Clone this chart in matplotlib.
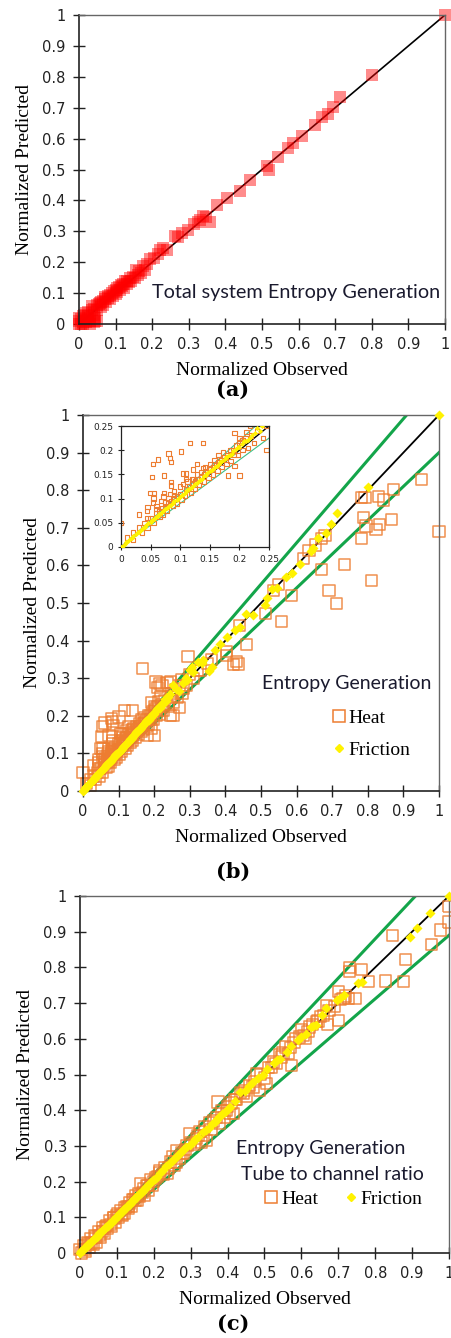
import matplotlib
matplotlib.use("Agg")
import matplotlib.pyplot as plt
from matplotlib.lines import Line2D

# ---------------- data ----------------
# (a) total system entropy generation
tot_obs = [0.0, 0.0, 0.005, 0.01, 0.01, 0.015, 0.02, 0.02, 0.025, 0.03, 0.035, 0.035, 0.04, 0.045,
           0.05, 0.05, 0.055, 0.06, 0.065, 0.07, 0.072, 0.08, 0.085, 0.09, 0.095, 0.1, 0.105, 0.11,
           0.115, 0.12, 0.126, 0.13, 0.14, 0.148, 0.157, 0.165, 0.176, 0.185, 0.194, 0.205, 0.216,
           0.23, 0.24, 0.262, 0.281, 0.299, 0.313, 0.325, 0.34, 0.358, 0.376, 0.404, 0.44, 0.467,
           0.513, 0.518, 0.545, 0.57, 0.585, 0.61, 0.646, 0.665, 0.68, 0.695, 0.713, 0.80, 1.0,
           0.0, 0.005, 0.01, 0.02, 0.03, 0.04, 0.045, 0.03, 0.015, 0.025, 0.04, 0.05, 0.06, 0.058,
           0.065, 0.075, 0.078, 0.085, 0.092, 0.1, 0.105, 0.112, 0.118, 0.123, 0.132, 0.137, 0.142,
           0.152, 0.16, 0.17, 0.18, 0.222, 0.27, 0.33, 0.348]
tot_pred = [0.01, 0.02, 0.015, 0.005, 0.025, 0.03, 0.01, 0.035, 0.04, 0.01, 0.045, 0.058, 0.05, 0.01,
            0.01, 0.06, 0.065, 0.07, 0.075, 0.08, 0.088, 0.09, 0.095, 0.1, 0.106, 0.11, 0.115, 0.12,
            0.125, 0.13, 0.14, 0.14, 0.15, 0.153, 0.175, 0.17, 0.189, 0.195, 0.211, 0.215, 0.225,
            0.245, 0.24, 0.285, 0.293, 0.304, 0.325, 0.33, 0.35, 0.33, 0.385, 0.407, 0.43, 0.467,
            0.51, 0.50, 0.54, 0.57, 0.585, 0.61, 0.645, 0.67, 0.68, 0.703, 0.736, 0.806, 1.0,
            0.0, 0.0, 0.0, 0.005, 0.0, 0.005, 0.02, 0.02, 0.012, 0.025, 0.03, 0.045, 0.055, 0.068,
            0.06, 0.07, 0.085, 0.08, 0.09, 0.097, 0.105, 0.11, 0.122, 0.118, 0.128, 0.137, 0.14,
            0.148, 0.16, 0.165, 0.175, 0.238, 0.28, 0.335, 0.345]

# (b) entropy generation, heat and friction
heat_b_obs = [0.0, 0.01, 0.02, 0.03, 0.03, 0.04, 0.044, 0.045, 0.049, 0.05, 0.052, 0.054, 0.054,
              0.055, 0.056, 0.06, 0.062, 0.065, 0.07, 0.072, 0.073, 0.073, 0.075, 0.08, 0.08, 0.083,
              0.083, 0.084, 0.084, 0.084, 0.085, 0.09, 0.095, 0.1, 0.101, 0.105, 0.105, 0.11, 0.11,
              0.11, 0.115, 0.117, 0.12, 0.122, 0.122, 0.125, 0.128, 0.13, 0.135, 0.139, 0.139, 0.14,
              0.145, 0.15, 0.155, 0.16, 0.165, 0.167, 0.17, 0.175, 0.18, 0.181, 0.185, 0.19, 0.192,
              0.192, 0.195, 0.2, 0.2, 0.205, 0.21, 0.212, 0.22, 0.222, 0.236, 0.245, 0.245, 0.246,
              0.253, 0.26, 0.272, 0.277, 0.281, 0.295, 0.3, 0.32, 0.402, 0.404, 0.423, 0.431, 0.437,
              0.44, 0.459, 0.513, 0.535, 0.549, 0.558, 0.586, 0.619, 0.635, 0.652, 0.669, 0.67,
              0.68, 0.691, 0.713, 0.735, 0.783, 0.783, 0.789, 0.792, 0.795, 0.811, 0.823, 0.829,
              0.832, 0.844, 0.867, 0.872, 0.951, 1.0,
              0.02, 0.035, 0.045, 0.055, 0.06, 0.065, 0.068, 0.07, 0.078, 0.08, 0.088, 0.09, 0.095,
              0.1, 0.102, 0.108, 0.112, 0.118, 0.125, 0.128, 0.132, 0.14, 0.142, 0.148, 0.155,
              0.158, 0.163, 0.17, 0.172, 0.178, 0.185, 0.19, 0.198, 0.2, 0.205, 0.215, 0.218, 0.225,
              0.23, 0.24, 0.25, 0.255, 0.265, 0.27, 0.28, 0.29, 0.31, 0.33, 0.35, 0.36, 0.215, 0.205,
              0.21, 0.045, 0.06, 0.075, 0.09, 0.12, 0.135, 0.15, 0.165]
heat_b_pred = [0.05, 0.02, 0.03, 0.04, 0.067, 0.05, 0.075, 0.083, 0.112, 0.06, 0.145, 0.092, 0.172,
               0.1, 0.112, 0.07, 0.181, 0.075, 0.08, 0.104, 0.112, 0.148, 0.085, 0.193, 0.09, 0.109,
               0.184, 0.127, 0.134, 0.175, 0.095, 0.1, 0.105, 0.11, 0.197, 0.13, 0.152, 0.141, 0.152,
               0.12, 0.125, 0.215, 0.13, 0.141, 0.16, 0.135, 0.172, 0.14, 0.145, 0.163, 0.215, 0.15,
               0.155, 0.16, 0.165, 0.17, 0.175, 0.326, 0.18, 0.185, 0.19, 0.148, 0.2, 0.2, 0.167,
               0.235, 0.21, 0.148, 0.215, 0.22, 0.225, 0.237, 0.23, 0.28, 0.289, 0.29, 0.25, 0.201,
               0.2, 0.27, 0.223, 0.295, 0.272, 0.358, 0.31, 0.32, 0.372, 0.361, 0.337, 0.345, 0.338,
               0.44, 0.39, 0.472, 0.534, 0.55, 0.45, 0.519, 0.619, 0.64, 0.654, 0.589, 0.672,
               0.68, 0.534, 0.499, 0.603, 0.781, 0.672, 0.727, 0.781, 0.705, 0.559, 0.696, 0.784,
               0.709, 0.774, 0.722, 0.802, 0.829, 0.69,
               0.015, 0.03, 0.04, 0.05, 0.085, 0.062, 0.095, 0.066, 0.075, 0.1, 0.085, 0.115, 0.09,
               0.125, 0.098, 0.105, 0.135, 0.112, 0.12, 0.15, 0.128, 0.135, 0.165, 0.143, 0.15,
               0.18, 0.158, 0.165, 0.195, 0.172, 0.178, 0.19, 0.19, 0.225, 0.2, 0.205, 0.25, 0.215,
               0.24, 0.225, 0.26, 0.235, 0.25, 0.28, 0.26, 0.28, 0.3, 0.32, 0.34, 0.35, 0.285, 0.29,
               0.275, 0.06, 0.078, 0.092, 0.108, 0.14, 0.155, 0.172, 0.19]
fric_b_obs = [0.0, 0.006, 0.012, 0.018, 0.025, 0.03, 0.037, 0.043, 0.05, 0.056, 0.062, 0.068, 0.075,
              0.081, 0.087, 0.094, 0.1, 0.106, 0.112, 0.118, 0.125, 0.131, 0.137, 0.143, 0.15,
              0.156, 0.162, 0.168, 0.175, 0.181, 0.187, 0.194, 0.2, 0.208, 0.215, 0.222, 0.23,
              0.238, 0.253, 0.262, 0.281, 0.291, 0.3, 0.305, 0.324, 0.338, 0.353, 0.362, 0.371,
              0.385, 0.404, 0.427, 0.441, 0.459, 0.478, 0.511, 0.516, 0.544, 0.57, 0.586, 0.61,
              0.64, 0.645, 0.661, 0.683, 0.697, 0.713, 0.801, 1.0,
              0.003, 0.009, 0.015, 0.021, 0.028, 0.034, 0.04, 0.046, 0.053, 0.059, 0.065, 0.071,
              0.078, 0.084, 0.09, 0.097, 0.103, 0.109, 0.115, 0.121, 0.128, 0.134, 0.14, 0.146,
              0.153, 0.159, 0.165, 0.171, 0.178, 0.184, 0.19, 0.197, 0.204, 0.211, 0.218, 0.226,
              0.234, 0.245, 0.27, 0.29, 0.31, 0.335, 0.53]
fric_b_pred = [0.0, 0.007, 0.013, 0.019, 0.027, 0.031, 0.039, 0.045, 0.052, 0.058, 0.064, 0.071,
               0.078, 0.084, 0.09, 0.098, 0.104, 0.11, 0.117, 0.122, 0.13, 0.137, 0.141, 0.149,
               0.156, 0.161, 0.168, 0.176, 0.181, 0.188, 0.193, 0.203, 0.206, 0.218, 0.222, 0.232,
               0.246, 0.25, 0.282, 0.27, 0.286, 0.295, 0.321, 0.33, 0.343, 0.348, 0.318, 0.33, 0.376,
               0.392, 0.41, 0.427, 0.437, 0.472, 0.468, 0.494, 0.512, 0.539, 0.568, 0.579, 0.603,
               0.637, 0.645, 0.672, 0.687, 0.709, 0.74, 0.808, 1.0,
               0.002, 0.01, 0.017, 0.022, 0.03, 0.036, 0.041, 0.049, 0.055, 0.061, 0.068, 0.074,
               0.081, 0.087, 0.095, 0.1, 0.107, 0.113, 0.12, 0.126, 0.133, 0.139, 0.146, 0.152,
               0.159, 0.165, 0.172, 0.178, 0.186, 0.19, 0.198, 0.206, 0.213, 0.22, 0.226, 0.235,
               0.24, 0.258, 0.265, 0.3, 0.316, 0.34, 0.536]

# (c) tube to channel ratio, heat and friction
heat_c_obs = [0.0, 0.01, 0.015, 0.02, 0.025, 0.03, 0.035, 0.04, 0.045, 0.05, 0.055, 0.06, 0.065,
              0.07, 0.075, 0.08, 0.085, 0.09, 0.095, 0.1, 0.105, 0.11, 0.115, 0.121, 0.125, 0.13,
              0.135, 0.14, 0.145, 0.15, 0.156, 0.16, 0.165, 0.17, 0.175, 0.18, 0.185, 0.19, 0.2,
              0.21, 0.217, 0.225, 0.236, 0.245, 0.255, 0.263, 0.27, 0.281, 0.29, 0.297, 0.31,
              0.32, 0.33, 0.338, 0.343, 0.355, 0.374, 0.378, 0.39, 0.397, 0.405, 0.415, 0.42, 0.442,
              0.45, 0.469, 0.478, 0.487, 0.5, 0.505, 0.52, 0.531, 0.546, 0.556, 0.565, 0.573, 0.585,
              0.6, 0.61, 0.623, 0.642, 0.651, 0.668, 0.67, 0.7, 0.7, 0.713, 0.727, 0.731, 0.73,
              0.746, 0.763, 0.781, 0.828, 0.847, 0.876, 0.883, 0.953, 0.976, 0.998, 0.998,
              0.005, 0.012, 0.022, 0.032, 0.042, 0.052, 0.062, 0.072, 0.082, 0.092, 0.102, 0.112,
              0.122, 0.132, 0.142, 0.152, 0.162, 0.172, 0.182, 0.195, 0.205, 0.215, 0.228, 0.24,
              0.25, 0.26, 0.275, 0.285, 0.3, 0.315, 0.325, 0.335, 0.35, 0.362, 0.37, 0.385, 0.4,
              0.41, 0.425, 0.435, 0.445, 0.46, 0.472, 0.49, 0.51, 0.525, 0.54, 0.55, 0.57, 0.58,
              0.595, 0.605, 0.618, 0.63, 0.645, 0.66, 0.675, 0.69, 0.705, 0.72]
heat_c_pred = [0.01, 0.02, 0.005, 0.03, 0.015, 0.04, 0.025, 0.05, 0.03, 0.06, 0.045, 0.07, 0.055,
               0.075, 0.07, 0.09, 0.075, 0.1, 0.085, 0.105, 0.1, 0.12, 0.105, 0.111, 0.13, 0.125,
               0.14, 0.13, 0.15, 0.148, 0.148, 0.165, 0.194, 0.17, 0.16, 0.19, 0.175, 0.205, 0.2,
               0.215, 0.232, 0.22, 0.222, 0.255, 0.245, 0.287, 0.265, 0.278, 0.3, 0.335, 0.305,
               0.33, 0.31, 0.353, 0.315, 0.345, 0.423, 0.362, 0.38, 0.4, 0.39, 0.39, 0.43, 0.447,
               0.44, 0.465, 0.502, 0.456, 0.49, 0.475, 0.52, 0.53, 0.549, 0.577, 0.558, 0.526,
               0.6, 0.625, 0.6, 0.633, 0.648, 0.662, 0.694, 0.64, 0.652, 0.732, 0.713, 0.713, 0.788,
               0.8, 0.713, 0.794, 0.76, 0.762, 0.889, 0.76, 0.823, 0.864, 0.905, 0.927, 0.97,
               0.0, 0.01, 0.025, 0.028, 0.045, 0.05, 0.06, 0.078, 0.08, 0.098, 0.11, 0.108,
               0.128, 0.13, 0.15, 0.16, 0.158, 0.18, 0.19, 0.19, 0.21, 0.225, 0.24, 0.238,
               0.27, 0.255, 0.28, 0.29, 0.31, 0.32, 0.34, 0.33, 0.365, 0.37, 0.38, 0.4, 0.41,
               0.42, 0.43, 0.45, 0.455, 0.47, 0.48, 0.5, 0.52, 0.535, 0.555, 0.56, 0.575, 0.59,
               0.605, 0.61, 0.62, 0.64, 0.65, 0.665, 0.68, 0.69, 0.71, 0.72]
fric_c_obs = [0.0, 0.008, 0.015, 0.022, 0.03, 0.038, 0.045, 0.052, 0.06, 0.068, 0.075, 0.083, 0.09,
              0.098, 0.105, 0.113, 0.12, 0.128, 0.135, 0.143, 0.15, 0.158, 0.165, 0.171, 0.18,
              0.188, 0.197, 0.21, 0.226, 0.234, 0.247, 0.26, 0.275, 0.288, 0.306, 0.32, 0.333,
              0.35, 0.365, 0.378, 0.393, 0.407, 0.42, 0.433, 0.459, 0.483, 0.507, 0.525, 0.543,
              0.56, 0.573, 0.6, 0.612, 0.625, 0.64, 0.655, 0.668, 0.697, 0.715, 0.754, 0.763,
              0.894, 0.912, 0.948, 1.0,
              0.004, 0.012, 0.019, 0.026, 0.034, 0.041, 0.049, 0.056, 0.064, 0.071, 0.079, 0.086,
              0.094, 0.102, 0.109, 0.117, 0.124, 0.132, 0.139, 0.147, 0.154, 0.161, 0.168, 0.176,
              0.184, 0.192, 0.203, 0.218, 0.24, 0.254, 0.268, 0.282, 0.297, 0.313, 0.342, 0.358,
              0.372, 0.385, 0.4, 0.446, 0.47, 0.495, 0.534, 0.59, 0.632, 0.705]
fric_c_pred = [0.0, 0.009, 0.016, 0.024, 0.031, 0.04, 0.046, 0.055, 0.061, 0.07, 0.077, 0.085, 0.092,
               0.1, 0.108, 0.116, 0.123, 0.131, 0.138, 0.147, 0.153, 0.162, 0.169, 0.176, 0.186,
               0.193, 0.204, 0.214, 0.232, 0.243, 0.256, 0.27, 0.284, 0.296, 0.31, 0.325, 0.339,
               0.35, 0.366, 0.38, 0.396, 0.41, 0.427, 0.45, 0.469, 0.49, 0.515, 0.533, 0.543,
               0.563, 0.58, 0.604, 0.614, 0.632, 0.64, 0.667, 0.686, 0.708, 0.722, 0.755, 0.76,
               0.885, 0.911, 0.953, 1.0,
               0.005, 0.013, 0.02, 0.027, 0.036, 0.043, 0.05, 0.058, 0.066, 0.073, 0.081, 0.088,
               0.096, 0.104, 0.112, 0.12, 0.127, 0.135, 0.142, 0.15, 0.158, 0.165, 0.172, 0.18,
               0.19, 0.198, 0.206, 0.224, 0.248, 0.262, 0.277, 0.29, 0.303, 0.318, 0.345, 0.36,
               0.374, 0.39, 0.404, 0.455, 0.478, 0.5, 0.54, 0.596, 0.636, 0.713]

ticks = [0, 0.1, 0.2, 0.3, 0.4, 0.5, 0.6, 0.7, 0.8, 0.9, 1]
tick_labels = ["0", "0.1", "0.2", "0.3", "0.4", "0.5", "0.6", "0.7", "0.8", "0.9", "1"]
inset_ticks = [0, 0.05, 0.1, 0.15, 0.2, 0.25]
inset_labels = ["0", "0.05", "0.1", "0.15", "0.2", "0.25"]

HEAT = "#ED7D31"
FRIC = "#FFF200"
GREEN = "#13A54A"
SERIF = "Liberation Serif"
SANS = "Lato"

W, H = 452, 1338
fig = plt.figure(figsize=(W / 100, H / 100), dpi=100)


def make_axes(l, t, r, b):
    # pixel box -> figure fractions
    return fig.add_axes([l / W, 1 - b / H, (r - l) / W, (b - t) / H])


def style(ax, yl_pad):
    ax.set_xlim(0, 1)
    ax.set_ylim(0, 1)
    ax.set_xticks(ticks)
    ax.set_yticks(ticks)
    ax.set_xticklabels(tick_labels)
    ax.set_yticklabels(tick_labels)
    ax.tick_params(direction="inout", length=9, width=1, labelsize=10.5, pad=5, colors="#222")
    for s in ["left", "bottom"]:
        ax.spines[s].set_color("#222")
        ax.spines[s].set_linewidth(1.2)
    for s in ["top", "right"]:
        ax.spines[s].set_color("#666")
        ax.spines[s].set_linewidth(1.0)
    ax.set_xlabel("Normalized Observed", family=SERIF, fontsize=14, labelpad=7)
    ax.set_ylabel("Normalized Predicted", family=SERIF, fontsize=14, labelpad=yl_pad)


# ---------------- (a) ----------------
ax1 = make_axes(79, 15, 445, 324)
ax1.plot([0, 1], [0, 1], color="black", lw=1.2, zorder=1)
ax1.scatter(tot_obs, tot_pred, marker="s", s=70, color="#FF0000", alpha=0.45,
            linewidths=0, zorder=2, clip_on=False)
style(ax1, 7)
ax1.text(0.2, 0.103, "Total system Entropy Generation", family=SANS, fontsize=14.3,
         color="#1a1a2e", va="center", ha="left")
fig.text(233 / W, 1 - 390 / H, "(a)", family="DejaVu Serif", fontweight="bold",
         fontsize=15, ha="center", va="center")

# ---------------- (b) ----------------
ax2 = make_axes(83, 415, 439, 791)
ax2.plot([0, 1], [0, 1.1], color=GREEN, lw=2.2, zorder=1)
ax2.plot([0, 1], [0, 0.9], color=GREEN, lw=2.2, zorder=1)
ax2.plot([0, 1], [0, 1], color="black", lw=1.3, zorder=1)
ax2.scatter(heat_b_obs, heat_b_pred, marker="s", s=65, facecolors="none", edgecolors=HEAT,
            linewidths=1.1, alpha=0.85, zorder=2, clip_on=False)
ax2.scatter(fric_b_obs, fric_b_pred, marker="D", s=26, color=FRIC, linewidths=0,
            zorder=3, clip_on=False)
style(ax2, 4)
ax2.text(0.502, 0.287, "Entropy Generation", family=SANS, fontsize=14,
         color="#1a1a2e", va="center", ha="left")
h_heat = Line2D([], [], marker="s", ls="none", markersize=8.5, markerfacecolor="none",
                markeredgecolor=HEAT, markeredgewidth=1.1)
h_fric = Line2D([], [], marker="D", ls="none", markersize=4.5, markerfacecolor=FRIC,
                markeredgecolor=FRIC)
ax2.legend([h_heat, h_fric], ["Heat", "Friction"], loc="center left",
           bbox_to_anchor=(0.648, 0.152), frameon=False, handletextpad=0.1,
           handlelength=0.8, labelspacing=0.75, prop={"family": SERIF, "size": 14})
fig.text(233 / W, 1 - 872 / H, "(b)", family="DejaVu Serif", fontweight="bold",
         fontsize=15, ha="center", va="center")

# inset of (b)
axi = make_axes(121, 426, 269, 547)
axi.plot([0, 0.25], [0, 0.275], color="#3DBE85", lw=0.8, zorder=1)
axi.plot([0, 0.25], [0, 0.225], color="#3DBE85", lw=0.8, zorder=1)
axi.plot([0, 0.25], [0, 0.25], color="black", lw=1.0, zorder=1)
axi.scatter(heat_b_obs, heat_b_pred, marker="s", s=10, facecolors="none", edgecolors=HEAT,
            linewidths=0.8, zorder=2)
axi.scatter(fric_b_obs, fric_b_pred, marker="D", s=7, color=FRIC, linewidths=0, zorder=3)
axi.set_xlim(0, 0.25)
axi.set_ylim(0, 0.25)
axi.set_xticks(inset_ticks)
axi.set_yticks(inset_ticks)
axi.set_xticklabels(inset_labels)
axi.set_yticklabels(inset_labels)
axi.tick_params(direction="inout", length=5, width=0.8, labelsize=6.5, pad=3, colors="#222")
for s in axi.spines.values():
    s.set_color("#222")
    s.set_linewidth(0.9)

# ---------------- (c) ----------------
ax3 = make_axes(80, 896, 449, 1253)
ax3.plot([0, 1], [0, 1.1], color=GREEN, lw=2.2, zorder=1)
ax3.plot([0, 1], [0, 0.89], color=GREEN, lw=2.2, zorder=1)
ax3.plot([0, 1], [0, 1], color="black", lw=1.3, zorder=1)
ax3.scatter(heat_c_obs, heat_c_pred, marker="s", s=65, facecolors="none", edgecolors=HEAT,
            linewidths=1.1, alpha=0.85, zorder=2, clip_on=False)
ax3.scatter(fric_c_obs, fric_c_pred, marker="D", s=26, color=FRIC, linewidths=0,
            zorder=3, clip_on=False)
style(ax3, 7)
ax3.text(0.424, 0.294, "Entropy Generation", family=SANS, fontsize=14,
         color="#1a1a2e", va="center", ha="left")
ax3.text(0.436, 0.22, "Tube to channel ratio", family=SANS, fontsize=14,
         color="#1a1a2e", va="center", ha="left")
ax3.legend([h_heat, h_fric], ["Heat", "Friction"], loc="center left",
           bbox_to_anchor=(0.45, 0.15), frameon=False, ncol=2, handletextpad=0.1,
           handlelength=0.8, columnspacing=1.3, prop={"family": SERIF, "size": 14})
fig.text(233 / W, 1 - 1324 / H, "(c)", family="DejaVu Serif", fontweight="bold",
         fontsize=15, ha="center", va="center")

fig.savefig("out.png", dpi=100)
